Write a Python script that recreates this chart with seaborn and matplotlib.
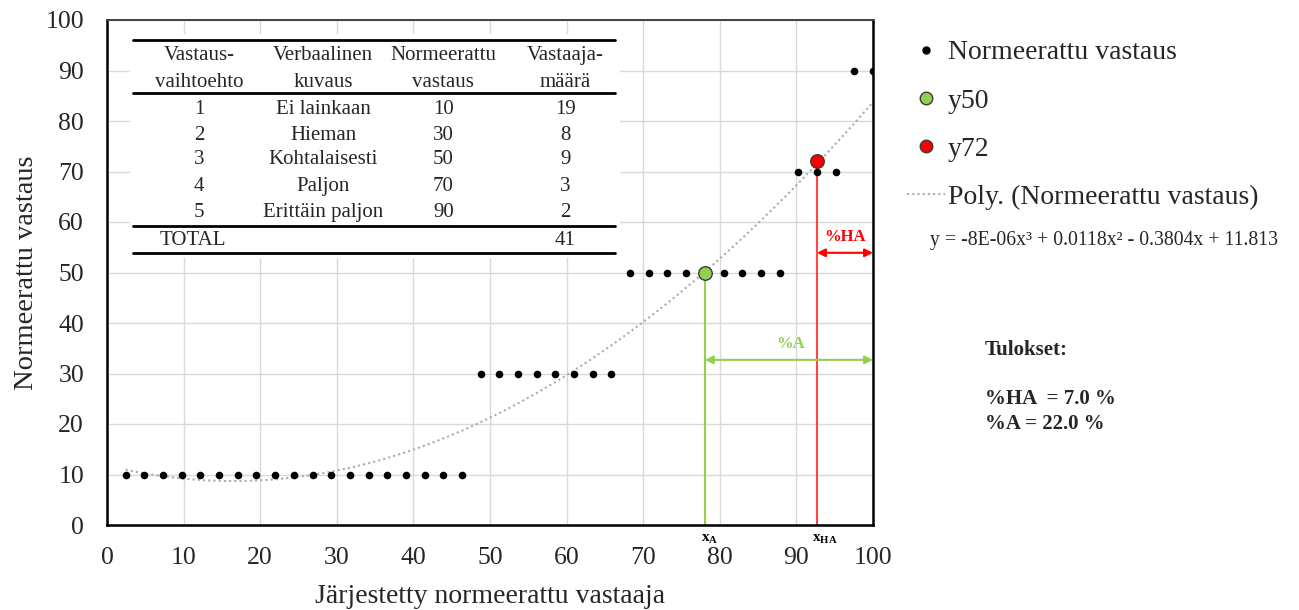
import numpy as np
import pandas as pd
import matplotlib
matplotlib.use("Agg")
import matplotlib.pyplot as plt
from matplotlib.lines import Line2D
import seaborn as sns

# ---- data ----
options = ["1", "2", "3", "4", "5"]
descriptions = ["Ei lainkaan", "Hieman", "Kohtalaisesti", "Paljon", "Erittäin paljon"]
norm_values = [10, 30, 50, 70, 90]
counts = [19, 8, 9, 3, 2]
total = 41
y50_point = (78.05, 50)
y72_point = (92.68, 72)
pct_HA = 7.0
pct_A = 22.0
x_ticks = list(range(0, 101, 10))
y_ticks = list(range(0, 101, 10))

# respondent positions (ordered respondents, as percent)
yv = np.repeat(norm_values, counts)
xv = np.arange(1, total + 1) / total * 100
df = pd.DataFrame({"x": xv, "y": yv})

sns.set_style("white")
plt.rcParams["font.family"] = ["Liberation Serif", "DejaVu Serif"]
plt.rcParams["mathtext.fontset"] = "custom"
plt.rcParams["mathtext.rm"] = "Liberation Serif"
plt.rcParams["mathtext.bf"] = "Liberation Serif:bold"
plt.rcParams["mathtext.it"] = "Liberation Serif:italic"

fig = plt.figure(figsize=(12.99, 6.10), dpi=100)
ax = fig.add_axes([107 / 1299, 1 - 525 / 610, (873 - 107) / 1299, (525 - 20) / 610])

GREEN = "#92D050"
RED = "#FF0000"

# grid
ax.set_xlim(0, 100)
ax.set_ylim(0, 100)
ax.set_xticks(x_ticks)
ax.set_yticks(y_ticks)
ax.grid(True, color="#D9D9D9", lw=1.0, zorder=0)
ax.set_axisbelow(True)

# trendline (polynomial order 3 fit of data)
coef = np.polyfit(xv, yv, 3)
xt = np.linspace(xv.min(), xv.max(), 300)
ax.plot(xt, np.polyval(coef, xt), ls=(0, (1, 1.5)), color="#ABABAB", lw=1.5, zorder=2)

# scatter points
sns.scatterplot(data=df, x="x", y="y", ax=ax, color="black", s=30, edgecolor="black",
                linewidth=0, zorder=3, legend=False)

# vertical lines
ax.plot([y50_point[0], y50_point[0]], [0, y50_point[1]], color=GREEN, lw=1.5, zorder=2)
ax.plot([y72_point[0], y72_point[0]], [0, y72_point[1]], color="#FF4545", lw=1.5, zorder=2)

ax.scatter([y50_point[0]], [y50_point[1]], s=95, color=GREEN, edgecolor="#3A3A3A", lw=1.0, zorder=4)
ax.scatter([y72_point[0]], [y72_point[1]], s=95, color=RED, edgecolor="#3A3A3A", lw=1.0, zorder=4)

# arrows
ax.annotate("", xy=(100, 32.7), xytext=(y50_point[0], 32.7),
            arrowprops=dict(arrowstyle="<|-|>", color=GREEN, lw=1.5, mutation_scale=12,
                            shrinkA=0, shrinkB=0), zorder=3)
ax.text(89.2, 34.3, "%A", color=GREEN, fontsize=12, fontweight="bold", ha="center", va="bottom")
ax.annotate("", xy=(100, 53.9), xytext=(y72_point[0], 53.9),
            arrowprops=dict(arrowstyle="<|-|>", color=RED, lw=1.5, mutation_scale=12,
                            shrinkA=0, shrinkB=0), zorder=3)
ax.text(96.4, 55.5, "%HA", color=RED, fontsize=12, fontweight="bold", ha="center", va="bottom")

# x_A, x_HA labels
ax.text(y50_point[0] - 0.5, -1.5, r"$\mathbf{x_{A}}$", fontsize=11, ha="left", va="top", color="black")
ax.text(y72_point[0] - 0.6, -1.5, r"$\mathbf{x_{HA}}$", fontsize=11, ha="left", va="top", color="black")

# spines & ticks
for s in ax.spines.values():
    s.set_visible(True)
    s.set_color("black")
    s.set_linewidth(1.8)
ax.spines["top"].set_color("#404040")
ax.spines["top"].set_linewidth(1.4)
ax.tick_params(axis="both", which="major", direction="inout", length=11, width=1.3,
               labelsize=18.5, color="black")
ax.tick_params(axis="y", pad=11)
ax.tick_params(axis="x", pad=10)
ax.set_xlabel("Järjestetty normeerattu vastaaja", fontsize=20, labelpad=11)
ax.set_ylabel("Normeerattu vastaus", fontsize=20.5, labelpad=5)

# ---- table (axes fraction coordinates) ----
tr = ax.transAxes
ax.add_patch(plt.Rectangle((0.030, 0.528), 0.640, 0.445, transform=tr, facecolor="white",
                           edgecolor="none", zorder=1.5))
col_x = [0.120, 0.282, 0.439, 0.598]
headers = [("Vastaus-", "vaihtoehto"), ("Verbaalinen", "kuvaus"),
           ("Normeerattu", "vastaus"), ("Vastaaja-", "määrä")]
tfs = 15
for cx, (h1, h2) in zip(col_x, headers):
    ax.text(cx, 0.930, h1, transform=tr, ha="center", va="center", fontsize=tfs, zorder=5)
    ax.text(cx, 0.876, h2, transform=tr, ha="center", va="center", fontsize=tfs, zorder=5)
row_y = [0.822, 0.772, 0.723, 0.671, 0.618]
for ry, o, d, v, c in zip(row_y, options, descriptions, norm_values, counts):
    for cx, t in zip(col_x, [o, d, str(v), str(c)]):
        ax.text(cx, ry, t, transform=tr, ha="center", va="center", fontsize=tfs, zorder=5)
ax.text(0.069, 0.563, "TOTAL", transform=tr, ha="left", va="center", fontsize=tfs, zorder=5)
ax.text(col_x[3], 0.563, str(total), transform=tr, ha="center", va="center", fontsize=tfs, zorder=5)
for ly in [0.960, 0.855, 0.592, 0.539]:
    ax.add_line(Line2D([0.034, 0.663], [ly, ly], transform=tr, color="black", lw=2.0, zorder=5))

# ---- legend ----
handles = [
    Line2D([], [], ls="none", marker="o", color="black", markersize=5),
    Line2D([], [], ls="none", marker="o", markerfacecolor=GREEN, markeredgecolor="#3A3A3A", markersize=9),
    Line2D([], [], ls="none", marker="o", markerfacecolor=RED, markeredgecolor="#3A3A3A", markersize=9),
    Line2D([], [], ls=(0, (1, 1.5)), color="#ABABAB", lw=1.5),
]
labels = ["Normeerattu vastaus", "y50", "y72", "Poly. (Normeerattu vastaus)"]
leg = fig.legend(handles, labels, loc="upper left", bbox_to_anchor=(907 / 1299, 1 - 40 / 610),
                 frameon=False, fontsize=20, handlelength=1.35, handletextpad=0.12,
                 labelspacing=0.82, borderaxespad=0, borderpad=0)

fig.text(930 / 1299, 1 - 240 / 610, "y = -8E-06x³ + 0.0118x² - 0.3804x + 11.813",
         fontsize=14.2, ha="left", va="center")
fig.text(985 / 1299, 1 - 350 / 610, "Tulokset:", fontsize=15, fontweight="bold",
         ha="left", va="center")
fig.text(985 / 1299, 1 - 399 / 610, f"%HA  = {pct_HA:.1f} %", fontsize=15, fontweight="bold",
         ha="left", va="center")
fig.text(985 / 1299, 1 - 424 / 610, f"%A = {pct_A:.1f} %", fontsize=15, fontweight="bold",
         ha="left", va="center")

fig.savefig("out.png", dpi=100)
